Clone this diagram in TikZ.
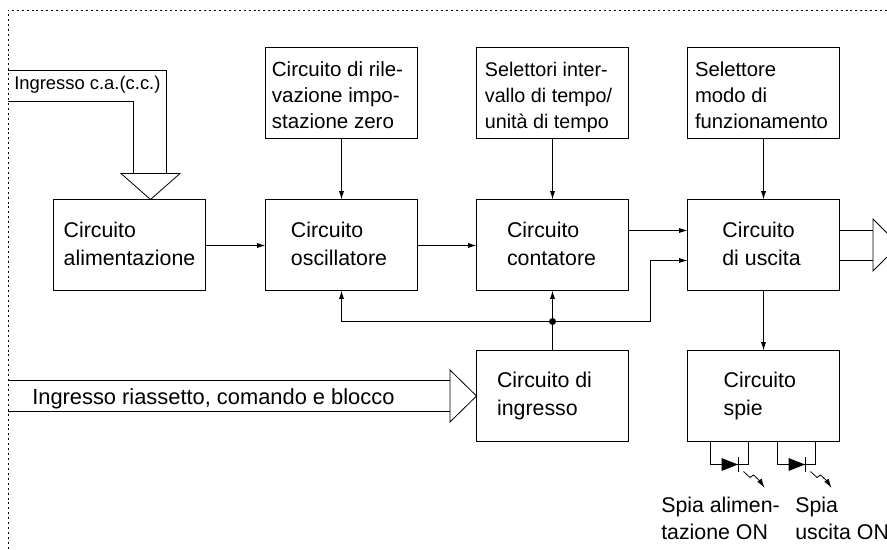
\documentclass[tikz,border=0pt]{standalone}
\usepackage{fontspec}
\setmainfont{Liberation Sans}
\usetikzlibrary{arrows.meta}
\newcommand{\blk}[3][0]{\vbox{\vskip#2pt\hbox{\kern#1pt\begin{tabular}{@{}l@{}}#3\end{tabular}}}}
\tikzset{
  px/.style={x=0.75pt,y=-0.75pt},
  box/.style={draw,line width=0.75pt,minimum width=114pt,minimum height=68.25pt,inner sep=0pt,outer sep=0pt,font=\fontsize{16}{20.5}\selectfont},
  sig/.style={line width=0.75pt},
  arr/.style={line width=0.75pt,-{Latex[length=6.2pt,width=3.8pt]}},
  txt/.style={inner sep=0pt,font=\fontsize{16}{20}\selectfont,align=left},
  bigtri/.style={draw,line width=0.6pt,fill=white,line join=miter},
  frm/.style={line width=0.6pt,dash pattern=on 1.5pt off 2.2pt},
}
\begin{document}
\begin{tikzpicture}[px]
\useasboundingbox (0,0) rectangle (887,549);
\clip (0,0) rectangle (887,549);
\coordinate (fa) at (887,10);
\coordinate (fb) at (8,10);
\coordinate (fc) at (8,549);
\draw[frm] (fa) -- (fb) -- (fc);

% boxes
\node[box] (alim) at (129.5,245) {\blk{1.5}{Circuito\\alimentazione}};
\node[box] (osc) at (341.5,245) {\blk[-3.75]{1.5}{Circuito\\oscillatore}};
\node[box] (cont) at (552.5,245) {\blk[-1.5]{1.5}{Circuito\\contatore}};
\node[box] (usc) at (763.5,245) {\blk[-3]{1.5}{Circuito\\di uscita}};
\node[box,font=\fontsize{15.4}{19.3}\selectfont] (zero) at (341.5,93) {\blk[-6]{6.75}{Circuito di rile-\\vazione impo-\\stazione zero}};
\node[box,font=\fontsize{14.8}{19.3}\selectfont] (sel) at (552.5,93) {\blk[-6]{6.75}{Selettori inter-\\vallo di tempo/\\unità di tempo}};
\node[box,font=\fontsize{15.2}{19.3}\selectfont] (modo) at (763.5,93) {\blk[-3]{6.75}{Selettore\\modo di\\funzionamento}};
\node[box] (ing) at (552.5,396) {\blk[-12]{0}{Circuito di\\ingresso}};
\node[box] (spie) at (763.5,396) {\blk[-5.5]{0}{Circuito\\spie}};

% vertical and horizontal signals
\draw[arr] (zero) -- (osc);
\draw[arr] (sel) -- (cont);
\draw[arr] (modo) -- (usc);
\draw[arr] (alim.east |- 0,245.5) -- (osc.west |- 0,245.5);
\draw[arr] (osc.east |- 0,245.5) -- (cont.west |- 0,245.5);
\draw[arr] (usc) -- (spie);
\coordinate (c1) at (cont.east |- 0,230.5);
\coordinate (u1) at (usc.west |- 0,230.5);
\coordinate (u2) at (usc.west |- 0,260.5);
\coordinate (bend) at (650.5,321.5);
\coordinate (jn) at (cont.south |- 0,321.5);
\coordinate (fbk) at (osc.south |- 0,321.5);
\draw[arr] (c1) -- (u1);
\draw[arr] (ing) -- (cont);
\draw[arr] (fbk -| jn) -- (fbk) -- (osc.south);
\draw[arr] (jn) -- (bend) |- (u2);
\fill (jn) circle [radius=2.6pt];

% AC input
\coordinate (a1) at (8,70.5);
\coordinate (a2) at (166.5,70.5);
\coordinate (a3) at (166.5,173.5);
\coordinate (b1) at (8,101.5);
\coordinate (b2) at (133.5,101.5);
\coordinate (b3) at (133.5,173.5);
\draw[sig] (a1) -- (a2) -- (a3);
\draw[sig] (b1) -- (b2) -- (b3);
\coordinate (t1) at (121,173.5);
\coordinate (t2) at (180,173.5);
\coordinate (t0) at (150.5,199.5);
\draw[bigtri] (t1) -- (t2) -- (t0) -- cycle;
\node[txt,anchor=base west,font=\fontsize{13.8}{16}\selectfont] (lac) at (14,90) {Ingresso c.a.(c.c.)};

% reset input
\coordinate (r1) at (8,380.5);
\coordinate (r2) at (450,380.5);
\coordinate (s1) at (8,411.5);
\coordinate (s2) at (450,411.5);
\draw[sig] (r1) -- (r2);
\draw[sig] (s1) -- (s2);
\coordinate (t3) at (450,370);
\coordinate (t4) at (450,422);
\draw[bigtri] (t3) -- (ing.west) -- (t4) -- cycle;
\node[txt,anchor=base west,font=\fontsize{16.4}{20}\selectfont] (lrs) at (32,404) {Ingresso riassetto, comando e blocco};

% output
\coordinate (o1) at (usc.east |- 0,230.5);
\coordinate (o2) at (873,230.5);
\coordinate (o3) at (usc.east |- 0,260.5);
\coordinate (o4) at (873,260.5);
\draw[sig] (o1) -- (o2);
\draw[sig] (o3) -- (o4);
\coordinate (t5) at (873,219);
\coordinate (t6) at (873,271);
\coordinate (t7) at (899,245);
\draw[bigtri] (t5) -- (t7) -- (t6) -- cycle;

% LEDs
\foreach \n/\x in {a/710.5,b/777.5}{
  \coordinate (L\n1) at (\x,441.5);
  \coordinate (L\n2) at (\x,464.5);
  \coordinate (L\n3) at (\x+38,464.5);
  \coordinate (L\n4) at (\x+38,441.5);
  \draw[line width=0.7pt] (L\n1) -- (L\n2) -- (L\n3) -- (L\n4);
  \fill (\x+11,458) -- (\x+27.5,464.5) -- (\x+11,471) -- cycle;
  \draw[line width=0.7pt] (\x+27.5,457) -- (\x+27.5,472);
  \draw[line width=0.6pt,-{Latex[length=7pt,width=4pt]}] (\x+33,471.5) -- (\x+39.5,477.5) -- (\x+43,475) -- (\x+49.5,481) -- (\x+54,488);
}
\node[txt,anchor=north west] (s1t) at (661,497) {Spia alimen-\\tazione ON};
\node[txt,anchor=north west] (s2t) at (795,497) {Spia\\uscita ON};
\end{tikzpicture}
\end{document}
